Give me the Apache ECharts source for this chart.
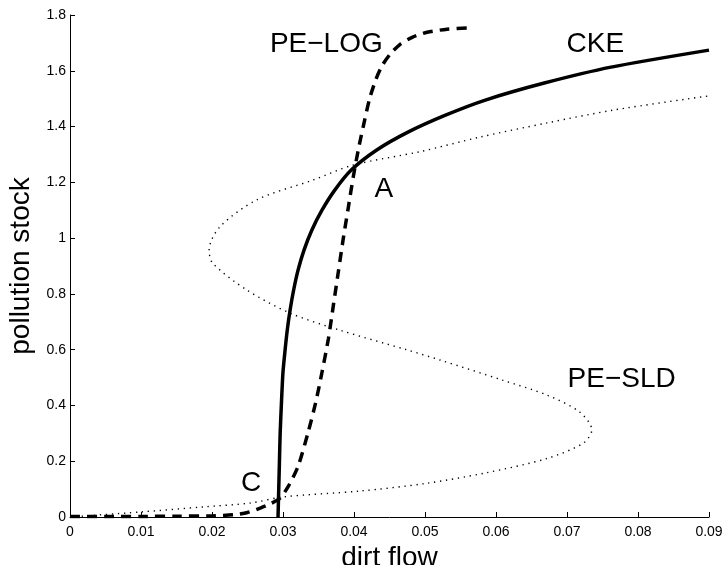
<!DOCTYPE html>
<html>
<head>
<meta charset="utf-8">
<script src="https://cdn.jsdelivr.net/npm/echarts@6/dist/echarts.min.js"></script>
<style>
  html, body { margin: 0; padding: 0; background: #fff; }
  #chart { width: 725px; height: 565px; }
</style>
</head>
<body>
<div id="chart"></div>
<script>
// x ticks / y ticks
var xTicks = [0, 0.01, 0.02, 0.03, 0.04, 0.05, 0.06, 0.07, 0.08, 0.09];
var yTicks = [0, 0.2, 0.4, 0.6, 0.8, 1, 1.2, 1.4, 1.6, 1.8];

// CKE (solid)
var ckeX = [0.0293, 0.0294, 0.0295, 0.0296, 0.0298, 0.0300, 0.0303, 0.0306, 0.0310, 0.0315, 0.03213, 0.03296, 0.03407, 0.03549, 0.03729, 0.03961, 0.0432, 0.0476, 0.0528, 0.0585, 0.0668, 0.0762, 0.09];
var ckeY = [0, 0.1, 0.2, 0.3, 0.42, 0.52, 0.6, 0.67, 0.742, 0.814, 0.886, 0.957, 1.029, 1.10, 1.172, 1.244, 1.316, 1.38, 1.44, 1.495, 1.556, 1.613, 1.674];

// PE-LOG (dashed)
var logX = [0, 0.005, 0.01, 0.015, 0.02, 0.023, 0.025, 0.0268, 0.0283, 0.0296, 0.0307, 0.0321, 0.0335, 0.0346, 0.0355, 0.0364, 0.0371, 0.0378, 0.0385, 0.0392, 0.0399, 0.0406, 0.0413, 0.0422, 0.0431, 0.044, 0.0451, 0.0465, 0.0482, 0.0503, 0.0531, 0.0559];
var logY = [0.002, 0.002, 0.002, 0.003, 0.004, 0.008, 0.016, 0.032, 0.048, 0.068, 0.108, 0.18, 0.30, 0.41, 0.52, 0.64, 0.76, 0.88, 1.0, 1.11, 1.22, 1.316, 1.40, 1.50, 1.57, 1.62, 1.66, 1.695, 1.72, 1.738, 1.749, 1.753];

// PE-SLD (dotted), ordered along the curve
var sldX = [0, 0.0099, 0.0187, 0.0254, 0.030, 0.0408, 0.050, 0.0585, 0.0672, 0.0723, 0.0735, 0.0718, 0.0672, 0.061, 0.0521, 0.0475, 0.038, 0.031, 0.0249, 0.0201, 0.0196, 0.0211, 0.0263, 0.0342, 0.0399, 0.0493, 0.0577, 0.0672, 0.0765, 0.09];
var sldY = [0, 0.018, 0.036, 0.05, 0.072, 0.093, 0.12, 0.158, 0.21, 0.265, 0.312, 0.376, 0.437, 0.49, 0.563, 0.599, 0.67, 0.731, 0.814, 0.91, 0.957, 1.04, 1.137, 1.208, 1.262, 1.31, 1.362, 1.413, 1.459, 1.51];

// curve labels
var labelNames = ['PE\u2212LOG', 'CKE', 'A', 'C', 'PE\u2212SLD'];
var labelX = [0.0361, 0.074, 0.0442, 0.0255, 0.0777];
var labelY = [1.695, 1.695, 1.175, 0.12, 0.495];

function pairs(xs, ys) {
  return xs.map(function (x, i) { return [x, ys[i]]; });
}

var font = 'Liberation Sans, Arial, Helvetica, sans-serif';
var myChart = echarts.init(document.getElementById('chart'), null, { renderer: 'canvas' });

myChart.setOption({
  animation: false,
  backgroundColor: '#fff',
  grid: { left: 70, right: 16, top: 15, bottom: 48, outerBoundsMode: 'none', containLabel: false },
  xAxis: {
    type: 'value',
    min: xTicks[0],
    max: xTicks[xTicks.length - 1],
    interval: 0.01,
    name: 'dirt flow',
    nameLocation: 'middle',
    nameGap: 20,
    nameTextStyle: { fontFamily: font, fontSize: 28, color: '#000' },
    axisLine: { lineStyle: { color: '#000', width: 1 } },
    axisTick: { show: true, inside: true, length: 5, lineStyle: { color: '#000' } },
    axisLabel: { fontFamily: font, fontSize: 14, color: '#000', margin: 8 },
    splitLine: { show: false }
  },
  yAxis: {
    type: 'value',
    min: yTicks[0],
    max: yTicks[yTicks.length - 1],
    interval: 0.2,
    name: 'pollution stock',
    nameLocation: 'middle',
    nameGap: 30,
    nameTextStyle: { fontFamily: font, fontSize: 28, color: '#000' },
    axisLine: { show: true, lineStyle: { color: '#000', width: 1 } },
    axisTick: { show: true, inside: true, length: 5, lineStyle: { color: '#000' } },
    axisLabel: { fontFamily: font, fontSize: 14, color: '#000', margin: 4 },
    splitLine: { show: false }
  },
  series: [
    {
      name: 'PE-SLD',
      type: 'line',
      data: pairs(sldX, sldY),
      showSymbol: false,
      smooth: 0.3,
      lineStyle: { color: '#000', width: 1.4, type: [1.3, 4.7] }
    },
    {
      name: 'CKE',
      type: 'line',
      data: pairs(ckeX, ckeY),
      showSymbol: false,
      smooth: 0.25,
      lineStyle: { color: '#000', width: 3.5, type: 'solid' }
    },
    {
      name: 'PE-LOG',
      type: 'line',
      data: pairs(logX, logY),
      showSymbol: false,
      smooth: 0.25,
      lineStyle: { color: '#000', width: 3.5, type: [10, 7] }
    },
    {
      name: 'labels',
      type: 'scatter',
      symbolSize: 0,
      itemStyle: { opacity: 1 },
      data: labelNames.map(function (n, i) { return { name: n, value: [labelX[i], labelY[i]] }; }),
      label: {
        show: true,
        position: 'inside',
        formatter: '{b}',
        fontFamily: font,
        fontSize: 28,
        color: '#000',
        opacity: 1
      }
    }
  ]
});
</script>
</body>
</html>
